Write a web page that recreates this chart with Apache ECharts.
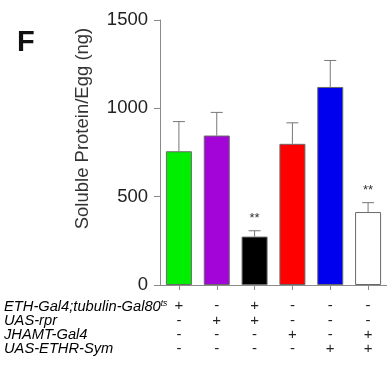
<!DOCTYPE html>
<html>
<head>
<meta charset="utf-8">
<script src="https://cdn.jsdelivr.net/npm/echarts@6/dist/echarts.min.js"></script>
<style>
  html, body { margin: 0; padding: 0; background: #fff; }
  #chart { width: 387px; height: 375px; }
</style>
</head>
<body>
<div id="chart"></div>
<script>
// Genotype rows listed beneath the bars
const genotypes = ['ETH-Gal4;tubulin-Gal80', 'UAS-rpr', 'JHAMT-Gal4', 'UAS-ETHR-Sym'];
// Presence (+) / absence (-) of each genotype element, one array per row
const rowETH   = ['+', '-', '+', '-', '-', '-'];
const rowRpr   = ['-', '+', '+', '-', '-', '-'];
const rowJHAMT = ['-', '-', '-', '+', '-', '+'];
const rowETHR  = ['-', '-', '-', '-', '+', '+'];
const signRows = [rowETH, rowRpr, rowJHAMT, rowETHR];

// One category per fly line
const categories = ['0', '1', '2', '3', '4', '5'];
// Soluble protein per egg (ng): mean and upper error
const means = [757, 846, 274, 799, 1121, 413];
const errors = [168, 131, 33, 119, 150, 53];
const significance = ['', '', '**', '', '', '**'];
const barColors = ['#00ee00', '#a305d9', '#000000', '#ff0000', '#0000ee', '#ffffff'];
const yTicks = [0, 500, 1000, 1500];

const chart = echarts.init(document.getElementById('chart'), null, { renderer: 'canvas' });

const labelFont = 'Arial, "Liberation Sans", sans-serif';
const axisGrey = '#8a8a8a';

const option = {
  animation: false,
  grid: { left: 160, right: -6, top: 20, bottom: 90 },
  xAxis: {
    type: 'category',
    data: categories,
    axisLine: { lineStyle: { color: axisGrey, width: 1 } },
    axisTick: { show: true, alignWithLabel: true, length: 5, lineStyle: { color: axisGrey } },
    axisLabel: {
      margin: 14,
      interval: 0,
      fontFamily: labelFont,
      fontSize: 15,
      lineHeight: 14.3,
      color: '#222',
      formatter: (v, i) => signRows.map(r => r[i]).join('\n')
    }
  },
  yAxis: {
    type: 'value',
    min: yTicks[0],
    max: yTicks[yTicks.length - 1],
    interval: 500,
    name: 'Soluble Protein/Egg (ng)',
    nameLocation: 'middle',
    nameGap: 68,
    nameTextStyle: { fontFamily: labelFont, fontSize: 18.5, color: '#333', padding: [0, 0, 0, 48] },
    axisLine: { show: true, lineStyle: { color: axisGrey, width: 1 } },
    axisTick: { show: true, length: 6, lineStyle: { color: axisGrey } },
    splitLine: { show: false },
    axisLabel: {
      fontFamily: labelFont, fontSize: 18.5, color: '#222', margin: 12,
      formatter: v => String(v)
    }
  },
  series: [
    {
      type: 'bar',
      barWidth: 26,
      data: means.map((v, i) => ({
        value: v,
        itemStyle: { color: barColors[i], borderColor: '#6a6a6a', borderWidth: 1 }
      })),
      z: 2
    },
    {
      type: 'custom',
      z: 3,
      data: means.map((v, i) => [i, v, v + errors[i], significance[i]]),
      renderItem: (params, api) => {
        const base = api.coord([api.value(0), api.value(1)]);
        const top = api.coord([api.value(0), api.value(2)]);
        const halfCap = 6;
        const children = [
          { type: 'line', shape: { x1: base[0], y1: base[1], x2: top[0], y2: top[1] },
            style: { stroke: '#777', lineWidth: 1 } },
          { type: 'line', shape: { x1: top[0] - halfCap, y1: top[1], x2: top[0] + halfCap, y2: top[1] },
            style: { stroke: '#777', lineWidth: 1 } }
        ];
        const sig = significance[params.dataIndex];
        if (sig) {
          children.push({
            type: 'text',
            style: { text: sig, x: top[0], y: top[1] - 12, align: 'center', verticalAlign: 'middle',
              font: '13px ' + labelFont, fill: '#333' }
          });
        }
        return { type: 'group', children };
      }
    }
  ],
  graphic: [
    { type: 'text', left: 17, top: 28,
      style: { text: 'F', font: 'bold 29px ' + labelFont, fill: '#111' } },
    ...genotypes.map((g, r) => ({
      type: 'text',
      left: 4,
      top: 299 + r * 14.3,
      style: {
        text: r === 0 ? '{m|' + g + '}{s|ts}' : '{m|' + g + '}',
        rich: {
          m: { fontFamily: labelFont, fontStyle: 'italic', fontSize: 14.7, color: '#1a1a1a', lineHeight: 15 },
          s: { fontFamily: labelFont, fontStyle: 'italic', fontSize: 8.5, color: '#1a1a1a', verticalAlign: 'top', lineHeight: 15, padding: [0, 0, 6, 0] }
        }
      }
    }))
  ]
};

chart.setOption(option);
</script>
</body>
</html>
